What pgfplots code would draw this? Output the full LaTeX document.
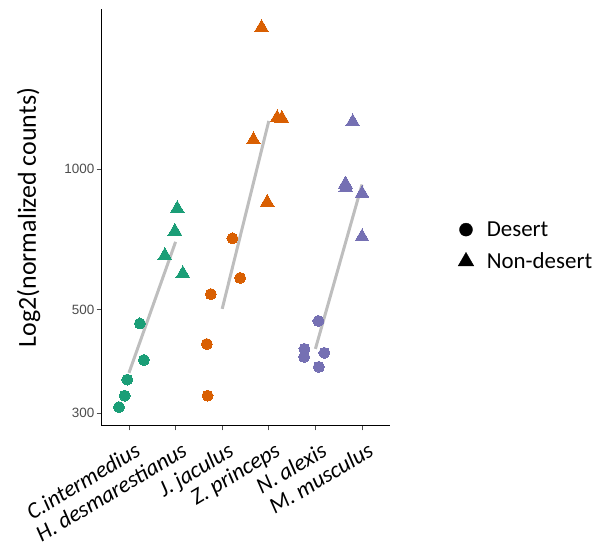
\documentclass[border=0pt]{standalone}
\usepackage{fontspec}
\setmainfont{Carlito}
\newfontfamily\arial{Liberation Sans}
\usepackage{pgfplots}
\pgfplotsset{compat=1.18}
\definecolor{cteal}{HTML}{1B9E77}
\definecolor{corange}{HTML}{D95F02}
\definecolor{cpurple}{HTML}{7570B3}
\definecolor{lgray}{HTML}{BEBEBE}
\definecolor{tgray}{HTML}{4D4D4D}
\begin{document}
\begin{tikzpicture}
\useasboundingbox (0,0) rectangle (602bp,547bp);
\begin{axis}[
 at={(101bp,121bp)}, anchor=south west,
 scale only axis, width=289bp, height=417bp,
 xmin=0.4, xmax=6.6,
 ymode=log, log basis y=2,
 ymin=281.5, ymax=2208,
 axis lines=left,
 axis line style={-, line width=1bp, black},
 tick align=outside,
 major tick length=4.5bp,
 tick style={tgray, line width=0.8bp},
 ytick={300,500,1000}, yticklabels={300,500,1000},
 yticklabel style={font=\arial\fontsize{13.5}{14}\selectfont, text=tgray, inner sep=2bp},
 xtick={1,2,3,4,5,6},
 xticklabels={C.intermedius, H. desmarestianus, J. jaculus, Z. princeps, N. alexis, M. musculus},
 xticklabel style={xshift=5bp, yshift=-9bp, rotate=31, anchor=north east, inner sep=1bp, font=\itshape\fontsize{23}{24}\selectfont},
 ylabel={Log2(normalized counts)},
 every axis y label/.style={at={(axis description cs:-0.25,0.5)}, rotate=90, anchor=center, font=\fontsize{26}{28}\selectfont},
 clip=false,
 legend style={draw=none, fill=none, at={(1.225,0.432)}, anchor=west, font=\fontsize{23}{24}\selectfont, row sep=11bp,
   /tikz/every odd column/.append style={column sep=11bp}},
 legend cell align=left,
]
\addplot[lgray, line width=3bp, forget plot] coordinates {(1,366) (2,699)};
\addplot[lgray, line width=3bp, forget plot] coordinates {(3,502) (4,1270)};
\addplot[lgray, line width=3bp, forget plot] coordinates {(5,412) (6,928)};
% teal
\addplot[only marks, mark=*, mark size=5.5bp, mark options={draw=cteal, fill=cteal, line width=0pt}, forget plot] coordinates {(0.786,309) (0.908,327) (0.964,354) (1.32,390) (1.235,467)};
\addplot[only marks, mark=triangle*, mark size=8bp, mark options={draw=cteal, fill=cteal, line width=0pt}, forget plot] coordinates {(2.036,823) (1.985,736) (1.77,653) (2.156,597)};
% orange
\addplot[only marks, mark=*, mark size=5.5bp, mark options={draw=corange, fill=corange, line width=0pt}, forget plot] coordinates {(3.22,711) (3.385,585) (2.756,540) (2.67,422) (2.686,327)};
\addplot[only marks, mark=triangle*, mark size=8bp, mark options={draw=corange, fill=corange, line width=0pt}, forget plot] coordinates {(3.844,2013) (4.18,1289) (4.28,1285) (3.67,1156) (3.966,849)};
% purple
\addplot[only marks, mark=*, mark size=5.5bp, mark options={draw=cpurple, fill=cpurple, line width=0pt}, forget plot] coordinates {(5.064,473) (4.765,412) (4.758,396) (5.192,404) (5.073,377)};
\addplot[only marks, mark=triangle*, mark size=8bp, mark options={draw=cpurple, fill=cpurple, line width=0pt}, forget plot] coordinates {(5.80,1264) (5.645,930) (5.652,912) (6.0,887) (6.0,716)};
\addlegendimage{only marks, mark=*, mark size=6.5bp, black}
\addlegendentry{Desert}
\addlegendimage{only marks, mark=triangle*, mark size=9bp, black}
\addlegendentry{Non-desert}
\end{axis}
\end{tikzpicture}
\end{document}
